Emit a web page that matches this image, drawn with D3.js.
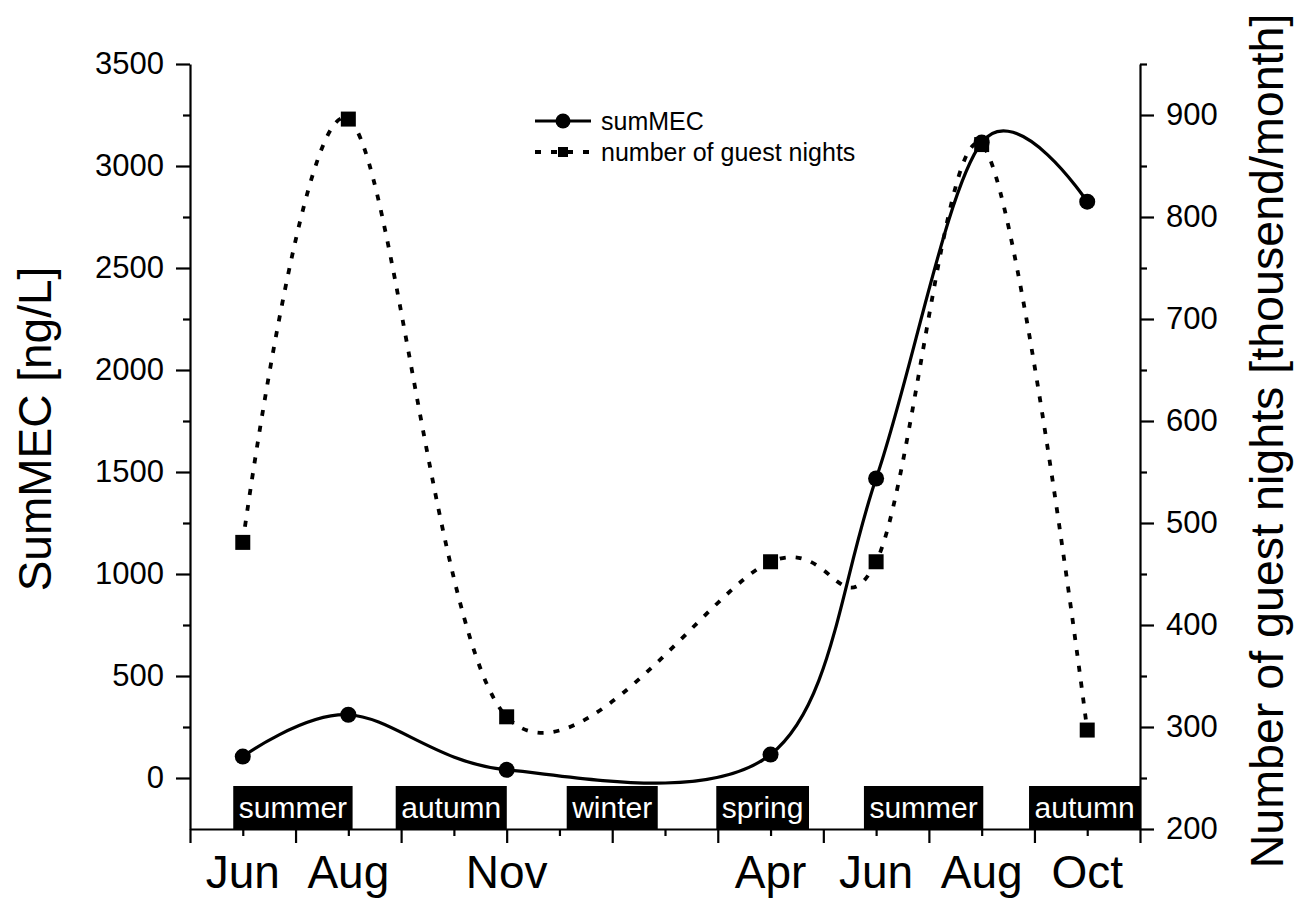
<!DOCTYPE html>
<html>
<head>
<meta charset="utf-8">
<script src="https://cdn.jsdelivr.net/npm/d3@7"></script>
<style>
  body { margin: 0; background: #fff; }
  svg { display: block; font-family: "Liberation Sans", Arial, Helvetica, sans-serif; }
</style>
</head>
<body>
<svg id="chart" width="1294" height="900"></svg>
<script>
// month index on the x axis: 0 = May of year one, 18 = Nov of year two
const monthLabels = ['Jun', 'Aug', 'Nov', 'Apr', 'Jun', 'Aug', 'Oct'];
const monthIndex = [1, 3, 6, 11, 13, 15, 17];

// left axis, ng/L
const sumMEC = [105, 310, 40, 115, 1468, 3115, 2825];
// right axis, thousand per month
const guestNights = [481, 896, 310, 462, 462, 871, 297];

const seasons = ['summer', 'autumn', 'winter', 'spring', 'summer', 'autumn'];
const seasonCenter = [1.95, 4.95, 8, 10.85, 13.9, 16.95];

const leftTicks = [0, 500, 1000, 1500, 2000, 2500, 3000, 3500];
const rightTicks = [200, 300, 400, 500, 600, 700, 800, 900];

const margin = { top: 64, right: 154, bottom: 71, left: 190 };
const width = 1294, height = 900;
const plotRight = width - margin.right;
const plotBottom = height - margin.bottom;

const svg = d3.select('#chart');
svg.append('rect').attr('width', width).attr('height', height).attr('fill', '#fff');

const x = d3.scaleLinear().domain([0, 18]).range([margin.left, plotRight]);
const yL = d3.scaleLinear().domain([-250, 3500]).range([plotBottom, margin.top]);
const yR = d3.scaleLinear().domain([200, 950]).range([plotBottom, margin.top]);

const majorLen = 14, minorLen = 7;

function styleAxis(g) {
  g.selectAll('path, line').attr('stroke', '#000').attr('stroke-width', 2.2);
  g.selectAll('text').attr('fill', '#000').style('font-size', '31px').style('font-family', 'inherit');
}

// bottom axis: major ticks at even months, minor at odd
svg.append('g')
  .attr('transform', `translate(0, ${plotBottom})`)
  .call(d3.axisBottom(x).tickValues(d3.range(0, 19, 2)).tickSize(majorLen).tickSizeOuter(0).tickFormat(''))
  .call(styleAxis);
svg.append('g')
  .attr('transform', `translate(0, ${plotBottom})`)
  .call(d3.axisBottom(x).tickValues(d3.range(1, 19, 2)).tickSize(minorLen).tickSizeOuter(0).tickFormat(''))
  .call(g => g.select('.domain').remove())
  .call(styleAxis);

// left axis
svg.append('g')
  .attr('transform', `translate(${margin.left}, 0)`)
  .call(d3.axisLeft(yL).tickValues(leftTicks).tickSize(majorLen).tickSizeOuter(0).tickPadding(12).tickFormat(d3.format('d')))
  .call(styleAxis);
svg.append('g')
  .attr('transform', `translate(${margin.left}, 0)`)
  .call(d3.axisLeft(yL).tickValues(d3.range(250, 3500, 500)).tickSize(minorLen).tickSizeOuter(0).tickFormat(''))
  .call(g => g.select('.domain').remove())
  .call(styleAxis);

// right axis
svg.append('g')
  .attr('transform', `translate(${plotRight}, 0)`)
  .call(d3.axisRight(yR).tickValues(rightTicks).tickSize(majorLen).tickSizeOuter(0).tickPadding(12).tickFormat(d3.format('d')))
  .call(styleAxis);
svg.append('g')
  .attr('transform', `translate(${plotRight}, 0)`)
  .call(d3.axisRight(yR).tickValues(d3.range(250, 951, 100)).tickSize(minorLen).tickSizeOuter(0).tickFormat(''))
  .call(g => g.select('.domain').remove())
  .call(styleAxis);

// month labels
svg.append('g')
  .selectAll('text')
  .data(monthIndex)
  .join('text')
    .attr('x', d => x(d))
    .attr('y', 888)
    .attr('text-anchor', 'middle')
    .style('font-size', '46px')
    .text((d, i) => monthLabels[i]);

// axis titles
svg.append('text')
  .attr('transform', `translate(51, ${(263 + 595) / 2}) rotate(-90)`)
  .attr('text-anchor', 'middle')
  .style('font-size', '46px')
  .text('SumMEC [ng/L]');

svg.append('text')
  .attr('transform', `translate(1283, 441) rotate(-90)`)
  .attr('text-anchor', 'middle')
  .style('font-size', '46.6px')
  .text('Number of guest nights [thousend/month]');

// curves (uniform catmull-rom matches the original spline connector best)
const curve = d3.curveCatmullRom.alpha(0);
const guestPts = monthIndex.map((m, i) => [x(m), yR(guestNights[i])]);
const mecPts = monthIndex.map((m, i) => [x(m), yL(sumMEC[i])]);

svg.append('path')
  .attr('d', d3.line().curve(curve)(guestPts))
  .attr('fill', 'none')
  .attr('stroke', '#000')
  .attr('stroke-width', 3.8)
  .attr('stroke-dasharray', '6,10');

svg.append('g')
  .selectAll('rect')
  .data(guestPts)
  .join('rect')
    .attr('x', d => d[0] - 7.5)
    .attr('y', d => d[1] - 7.5)
    .attr('width', 15)
    .attr('height', 15)
    .attr('fill', '#000');

svg.append('path')
  .attr('d', d3.line().curve(curve)(mecPts))
  .attr('fill', 'none')
  .attr('stroke', '#000')
  .attr('stroke-width', 3.2);

svg.append('g')
  .selectAll('circle')
  .data(mecPts)
  .join('circle')
    .attr('cx', d => d[0])
    .attr('cy', d => d[1])
    .attr('r', 8)
    .attr('fill', '#000');

// season boxes
const seasonG = svg.append('g')
  .selectAll('g')
  .data(seasons)
  .join('g');

seasonG.append('text')
  .attr('x', (d, i) => x(seasonCenter[i]))
  .attr('y', 818)
  .attr('text-anchor', 'middle')
  .attr('fill', '#fff')
  .style('font-size', '30px')
  .text(d => d);

seasonG.insert('rect', 'text')
  .each(function (d, i) {
    const w = this.parentNode.querySelector('text').getComputedTextLength() + 11;
    d3.select(this)
      .attr('x', x(seasonCenter[i]) - w / 2)
      .attr('y', 786)
      .attr('width', w)
      .attr('height', plotBottom - 786)
      .attr('fill', '#000');
  });

// legend
const legend = svg.append('g').attr('transform', 'translate(535, 121)');

legend.append('line')
  .attr('x1', 0).attr('x2', 56).attr('y1', 0).attr('y2', 0)
  .attr('stroke', '#000').attr('stroke-width', 3.2);
legend.append('circle').attr('cx', 28).attr('cy', 0).attr('r', 7.5).attr('fill', '#000');
legend.append('text').attr('x', 66).attr('y', 9).style('font-size', '25px').text('sumMEC');

legend.append('line')
  .attr('x1', 0).attr('x2', 56).attr('y1', 31).attr('y2', 31)
  .attr('stroke', '#000').attr('stroke-width', 3.8).attr('stroke-dasharray', '6,10');
legend.append('rect').attr('x', 23).attr('y', 26).attr('width', 10).attr('height', 10).attr('fill', '#000');
legend.append('text').attr('x', 66).attr('y', 40).style('font-size', '25px').text('number of guest nights');
</script>
</body>
</html>
